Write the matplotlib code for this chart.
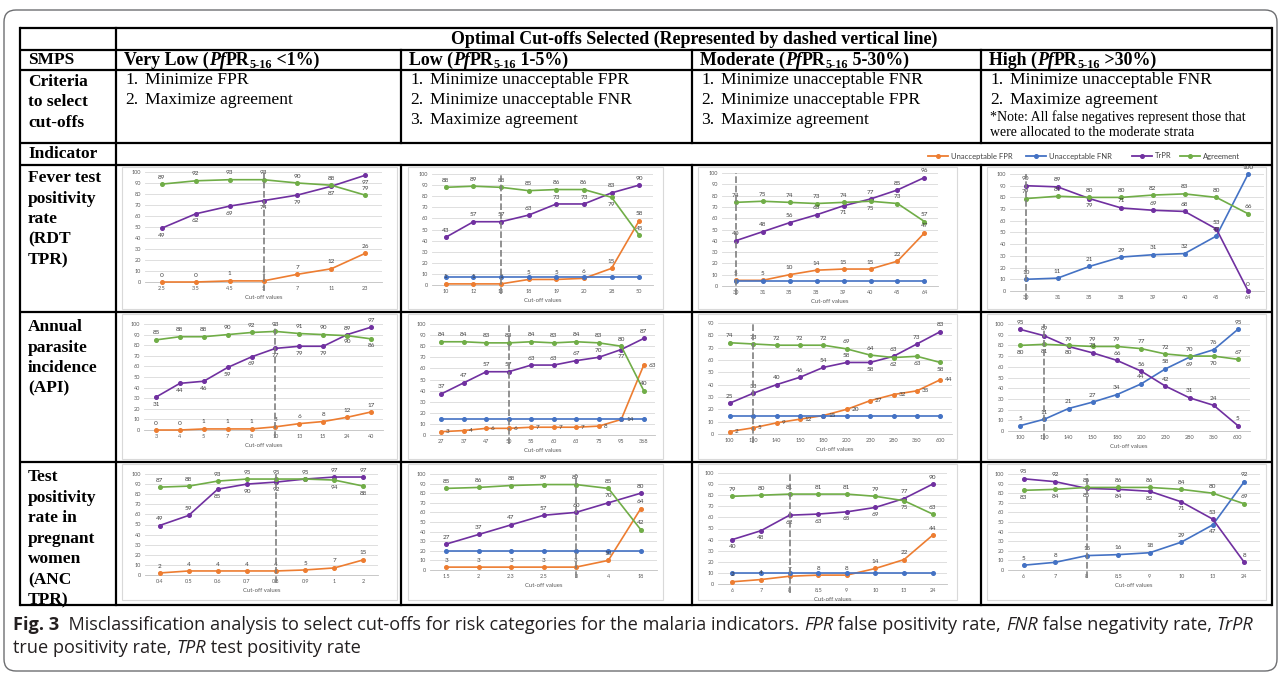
import matplotlib
matplotlib.use('Agg')
import matplotlib.pyplot as plt
from matplotlib.patches import FancyBboxPatch, Rectangle

W, H = 1281, 674
SERIF = 'Liberation Serif'
SANS = 'Lato'
CAPF = 'Open Sans'

C_FPR = '#ED7D31'
C_FNR = '#4472C4'
C_TRPR = '#7030A0'
C_AGR = '#70AD47'

# ---------------- data ----------------
# Fever test positivity rate
fever_vl_cut = ['2.5', '3.5', '4.5', '5', '7', '11', '23']
fever_vl_fpr = [0, 0, 1, 1, 7, 12, 26]
fever_vl_trpr = [49, 62, 69, 74, 79, 87, 97]
fever_vl_agr = [89, 92, 93, 93, 90, 88, 79]
fever_vl_sel = '5'

fever_lo_cut = ['10', '12', '15', '18', '19', '20', '28', '50']
fever_lo_fpr = [1, 1, 1, 5, 5, 6, 15, 58]
fever_lo_fnr = [7, 7, 7, 7, 7, 7, 7, 7]
fever_lo_trpr = [43, 57, 57, 63, 73, 73, 83, 90]
fever_lo_agr = [88, 89, 88, 85, 86, 86, 79, 45]
fever_lo_sel = '15'

fever_mod_cut = ['30', '31', '35', '38', '39', '40', '45', '64']
fever_mod_fpr = [5, 5, 10, 14, 15, 15, 22, 47]
fever_mod_fnr = [4, 4, 4, 4, 4, 4, 4, 4]
fever_mod_trpr = [40, 48, 56, 63, 71, 77, 85, 96]
fever_mod_agr = [74, 75, 74, 73, 74, 75, 73, 57]
fever_mod_sel = '30'

fever_hi_cut = ['30', '31', '35', '38', '39', '40', '45', '64']
fever_hi_fnr = [10, 11, 21, 29, 31, 32, 47, 100]
fever_hi_trpr = [90, 89, 79, 71, 69, 68, 53, 0]
fever_hi_agr = [79, 81, 80, 80, 82, 83, 80, 66]
fever_hi_sel = '30'

# Annual parasite incidence
api_vl_cut = ['3', '4', '5', '7', '8', '10', '13', '15', '24', '40']
api_vl_fpr = [0, 0, 1, 1, 1, 3, 6, 8, 12, 17]
api_vl_trpr = [31, 44, 46, 59, 69, 77, 79, 79, 90, 97]
api_vl_agr = [85, 88, 88, 90, 92, 93, 91, 90, 89, 86]
api_vl_sel = '10'

api_lo_cut = ['27', '37', '47', '50', '55', '60', '63', '75', '95', '368']
api_lo_fpr = [3, 4, 6, 6, 7, 7, 7, 8, 14, 63]
api_lo_fnr = [14, 14, 14, 14, 14, 14, 14, 14, 14, 14]
api_lo_trpr = [37, 47, 57, 57, 63, 63, 67, 70, 77, 87]
api_lo_agr = [84, 84, 83, 83, 84, 83, 84, 83, 80, 40]
api_lo_sel = '50'

api_mod_cut = ['100', '120', '140', '150', '180', '200', '230', '280', '360', '600']
api_mod_fpr = [2, 5, 9, 12, 15, 20, 27, 32, 35, 44]
api_mod_fnr = [15, 15, 15, 15, 15, 15, 15, 15, 15, 15]
api_mod_trpr = [25, 33, 40, 46, 54, 58, 58, 63, 73, 83]
api_mod_agr = [74, 73, 72, 72, 72, 69, 64, 62, 63, 58]
api_mod_sel = '120'

api_hi_cut = ['100', '120', '140', '150', '180', '200', '230', '280', '360', '600']
api_hi_fnr = [5, 11, 21, 27, 34, 44, 58, 69, 76, 95]
api_hi_trpr = [95, 89, 79, 73, 66, 56, 42, 31, 24, 5]
api_hi_agr = [80, 81, 80, 79, 79, 77, 72, 70, 70, 67]
api_hi_sel = '120'

# Test positivity rate in pregnant women
anc_vl_cut = ['0.4', '0.5', '0.6', '0.7', '0.8', '0.9', '1', '2']
anc_vl_fpr = [2, 4, 4, 4, 4, 5, 7, 15]
anc_vl_trpr = [49, 59, 85, 90, 92, 95, 97, 97]
anc_vl_agr = [87, 88, 93, 95, 95, 95, 94, 88]
anc_vl_sel = '0.8'

anc_lo_cut = ['1.5', '2', '2.3', '2.5', '3', '4', '18']
anc_lo_fpr = [3, 3, 3, 3, 3, 10, 64]
anc_lo_fnr = [20, 20, 20, 20, 20, 20, 20]
anc_lo_trpr = [27, 37, 47, 57, 60, 70, 80]
anc_lo_agr = [85, 86, 88, 89, 89, 85, 42]
anc_lo_sel = '3'

anc_mod_cut = ['6', '7', '8', '8.5', '9', '10', '13', '24']
anc_mod_fpr = [2, 4, 7, 8, 8, 14, 22, 44]
anc_mod_fnr = [10, 10, 10, 10, 10, 10, 10, 10]
anc_mod_trpr = [40, 48, 62, 63, 65, 69, 77, 90]
anc_mod_agr = [79, 80, 81, 81, 81, 79, 75, 63]
anc_mod_sel = '8'

anc_hi_cut = ['6', '7', '8', '8.5', '9', '10', '13', '24']
anc_hi_fnr = [5, 8, 15, 16, 18, 29, 47, 92]
anc_hi_trpr = [95, 92, 85, 84, 82, 71, 53, 8]
anc_hi_agr = [83, 84, 86, 86, 86, 84, 80, 69]
anc_hi_sel = '8'

# ---------------- table texts ----------------
strata = ['Very Low', 'Low', 'Moderate', 'High']
strata_range = ['<1%)', '1-5%)', '5-30%)', '>30%)']
criteria = [
    ['Minimize FPR', 'Maximize agreement'],
    ['Minimize unacceptable FPR', 'Minimize unacceptable FNR', 'Maximize agreement'],
    ['Minimize unacceptable FNR', 'Minimize unacceptable FPR', 'Maximize agreement'],
    ['Minimize unacceptable FNR', 'Maximize agreement'],
]
note_lines = ['*Note: All false negatives represent those that',
              'were allocated to the moderate strata']
row_labels = [
    ['Fever test', 'positivity', 'rate', '(RDT', 'TPR)'],
    ['Annual', 'parasite', 'incidence', '(API)'],
    ['Test', 'positivity', 'rate in', 'pregnant', 'women', '(ANC', 'TPR)'],
]
legend_names = ['Unacceptable FPR', 'Unacceptable FNR', 'TrPR', 'Agreement']
legend_colors = [C_FPR, C_FNR, C_TRPR, C_AGR]

# ---------------- figure ----------------
fig = plt.figure(figsize=(W / 100, H / 100), dpi=100)
bg = fig.add_axes([0, 0, 1, 1])
bg.set_xlim(0, W)
bg.set_ylim(H, 0)
bg.axis('off')
renderer = fig.canvas.get_renderer()


def text_width(s, **kw):
    t1 = bg.text(0, 0, 'x' + s + 'x', **kw)
    t2 = bg.text(0, 0, 'xx', **kw)
    w = t1.get_window_extent(renderer).width - t2.get_window_extent(renderer).width
    t1.remove()
    t2.remove()
    return w


def rich(x, y, parts, **base):
    # parts: (text, extra kwargs, baseline shift in px)
    for s, kw, dy in parts:
        props = dict(base)
        props.update(kw)
        bg.text(x, y + dy, s, va='baseline', ha='left', **props)
        x += text_width(s, **props)


# outer rounded frame
bg.add_patch(FancyBboxPatch((4, 10), W - 8, H - 13, boxstyle='round,pad=0,rounding_size=12',
                            fc='none', ec='#6d6e71', lw=1.0))

# table grid
col_x = [20, 116, 401, 692, 981, 1272]
row_y = [28, 50, 70, 143, 165, 312, 462, 605]
lw_t = 1.6
for y in row_y:
    bg.plot([col_x[0], col_x[-1]], [y, y], color='black', lw=lw_t, solid_capstyle='butt')
for x in [col_x[0], col_x[1], col_x[-1]]:
    bg.plot([x, x], [row_y[0], row_y[-1]], color='black', lw=lw_t)
for x in col_x[2:-1]:
    bg.plot([x, x], [row_y[1], row_y[3]], color='black', lw=lw_t)
    bg.plot([x, x], [row_y[4], row_y[-1]], color='black', lw=lw_t)

hdr = dict(family=SERIF, fontsize=12.5, fontweight='bold', color='black')
bg.text((col_x[1] + col_x[-1]) / 2, 39, 'Optimal Cut-offs Selected (Represented by dashed vertical line)',
        ha='center', va='center', family=SERIF, fontsize=12.9, fontweight='bold', color='black')
bg.text(28, 60, 'SMPS', ha='left', va='center', **hdr)

for i, (name, rng) in enumerate(zip(strata, strata_range)):
    rich(col_x[i + 1] + 8, 65, [
        (name + ' (', {}, 0),
        ('Pf', {'fontstyle': 'italic'}, 0),
        ('PR', {}, 0),
        ('5-16', {'fontsize': 8.8}, 3),
        (' ' + rng, {}, 0),
    ], family=SERIF, fontsize=12.9, fontweight='bold', color='black')

for j, s in enumerate(['Criteria', 'to select', 'cut-offs']):
    bg.text(28, 82 + 20.5 * j, s, ha='left', va='center', **hdr)

body = dict(family=SERIF, fontsize=12.6, color='black')
for i, crit in enumerate(criteria):
    for j, s in enumerate(crit):
        bg.text(col_x[i + 1] + 9, 80 + 20 * j, f'{j + 1}.', ha='left', va='center', **body)
        bg.text(col_x[i + 1] + 29, 80 + 20 * j, s, ha='left', va='center', **body)
for j, s in enumerate(note_lines):
    bg.text(col_x[4] + 9, 117 + 15 * j, s, ha='left', va='center', family=SERIF, fontsize=10)

bg.text(28, 154, 'Indicator', ha='left', va='center', **hdr)

# legend in the indicator row
leg_x = [928, 1026, 1132, 1180]
for lx, name, c in zip(leg_x, legend_names, legend_colors):
    bg.plot([lx, lx + 20], [156, 156], color=c, lw=1.3)
    bg.plot([lx + 10], [156], 'o', color=c, ms=2.6)
    bg.text(lx + 23, 156, name, ha='left', va='center', family=SANS, fontsize=5.5, color='#404040')

row_label_y0 = [178, 327, 477]
for y0, labs in zip(row_label_y0, row_labels):
    for j, s in enumerate(labs):
        bg.text(28, y0 + 20.6 * j, s, ha='left', va='center', **hdr)

# light chart frames inside cells
box_x = [(122, 397), (408, 663), (698, 957), (987, 1266)]
box_y = [(167, 309), (314, 459), (464, 600)]
for (by0, by1) in box_y:
    for (bx0, bx1) in box_x:
        bg.add_patch(Rectangle((bx0, by0), bx1 - bx0, by1 - by0, fc='none', ec='#D9D9D9', lw=0.8))

# ---------------- mini charts ----------------
OFF = {'a': ((0, 3.2), 'center', 'bottom'),
       'b': ((0, -3.2), 'center', 'top'),
       'r': ((3.5, 0), 'left', 'center')}


def panel(rect, cuts, sel, series, ymax=100, xlabel=True):
    x0, y0, x1, y1 = rect
    ax = fig.add_axes([x0 / W, 1 - y1 / H, (x1 - x0) / W, (y1 - y0) / H])
    ax.set_facecolor('none')
    n = len(cuts)
    xs = list(range(n))
    ax.set_xlim(-0.5, n - 0.5)
    ax.set_ylim(0, ymax)
    ax.set_yticks(range(0, ymax + 1, 10))
    ax.set_xticks(xs)
    ax.set_xticklabels(cuts)
    ax.grid(axis='y', color='#D9D9D9', lw=0.6)
    ax.set_axisbelow(True)
    for sp in ['top', 'right', 'left']:
        ax.spines[sp].set_visible(False)
    ax.spines['bottom'].set_color('#BFBFBF')
    ax.spines['bottom'].set_linewidth(0.6)
    ax.tick_params(length=0, labelsize=4, labelcolor='#595959', pad=3)
    for lab in ax.get_xticklabels() + ax.get_yticklabels():
        lab.set_family(SANS)
    if xlabel:
        ax.set_xlabel('Cut-off values', fontsize=4.3, family=SANS, color='#595959', labelpad=3)
    for vals, color, place in series:
        ax.plot(xs, vals, color=color, lw=1.2, marker='o', ms=2.6, zorder=3, clip_on=False)
        for i, (v, p) in enumerate(zip(vals, place)):
            if p == 'n':
                continue
            off, ha, va = OFF[p]
            ax.annotate(str(v), (i, v), xytext=off, textcoords='offset points', ha=ha, va=va,
                        fontsize=4.6, family=SANS, color='#404040', zorder=4, annotation_clip=False)
    k = cuts.index(sel)
    ax.axvline(k, ymin=-0.08, ymax=1.0, color='#7F7F7F', lw=1.2, ls=(0, (4, 1.6)),
               clip_on=False, zorder=5)
    return ax


panel((145, 172, 382, 282), fever_vl_cut, fever_vl_sel, [
    (fever_vl_fpr, C_FPR, 'aaaaaaa'),
    (fever_vl_trpr, C_TRPR, 'bbbbbbb'),
    (fever_vl_agr, C_AGR, 'aaaaaaa')])
panel((432, 174, 653, 285), fever_lo_cut, fever_lo_sel, [
    (fever_lo_fpr, C_FPR, 'aaaaaaaa'),
    (fever_lo_fnr, C_FNR, 'nnnnnnnn'),
    (fever_lo_trpr, C_TRPR, 'aaaaaaaa'),
    (fever_lo_agr, C_AGR, 'aaaaaaba')])
panel((722, 173, 938, 286), fever_mod_cut, fever_mod_sel, [
    (fever_mod_fpr, C_FPR, 'aaaaaaaa'),
    (fever_mod_fnr, C_FNR, 'nnnnnnnn'),
    (fever_mod_trpr, C_TRPR, 'aaaabaaa'),
    (fever_mod_agr, C_AGR, 'aaaaabaa')])
panel((1010, 174, 1264, 291), fever_hi_cut, fever_hi_sel, [
    (fever_hi_fnr, C_FNR, 'aaaaaaaa'),
    (fever_hi_trpr, C_TRPR, 'aabaaaaa'),
    (fever_hi_agr, C_AGR, 'aaaaaaaa')], xlabel=False)

panel((144, 324, 383, 430), api_vl_cut, api_vl_sel, [
    (api_vl_fpr, C_FPR, 'aaaaaaaaaa'),
    (api_vl_trpr, C_TRPR, 'bbbbbbbbba'),
    (api_vl_agr, C_AGR, 'aaaaaaaaab')])
panel((430, 324, 655, 435), api_lo_cut, api_lo_sel, [
    (api_lo_fpr, C_FPR, 'rrrrrrrrrr'),
    (api_lo_fnr, C_FNR, 'nnnnnnnnnn'),
    (api_lo_trpr, C_TRPR, 'aaaaaaaaba'),
    (api_lo_agr, C_AGR, 'aaaaaaaaaa')])
panel((718, 323, 952, 434), api_mod_cut, api_mod_sel, [
    (api_mod_fpr, C_FPR, 'rrrrrrrrrr'),
    (api_mod_fnr, C_FNR, 'nnnnnnnnnn'),
    (api_mod_trpr, C_TRPR, 'aaaaaabaaa'),
    (api_mod_agr, C_AGR, 'aaaaaaabbb')], ymax=90)
panel((1008, 324, 1250, 431), api_hi_cut, api_hi_sel, [
    (api_hi_fnr, C_FNR, 'aaaaaaabaa'),
    (api_hi_trpr, C_TRPR, 'aaaaaaaaaa'),
    (api_hi_agr, C_AGR, 'bbbaaaaaba')])

panel((145, 474, 378, 575), anc_vl_cut, anc_vl_sel, [
    (anc_vl_fpr, C_FPR, 'aaaaaaaa'),
    (anc_vl_trpr, C_TRPR, 'aabbbnaa'),
    (anc_vl_agr, C_AGR, 'aaaaaabb')])
panel((430, 474, 657, 570), anc_lo_cut, anc_lo_sel, [
    (anc_lo_fpr, C_FPR, 'aaaaaaa'),
    (anc_lo_fnr, C_FNR, 'nnnnnnn'),
    (anc_lo_trpr, C_TRPR, 'aaaaaaa'),
    (anc_lo_agr, C_AGR, 'aaaaaaa')])
panel((718, 473, 947, 584), anc_mod_cut, anc_mod_sel, [
    (anc_mod_fpr, C_FPR, 'aaaaaaaa'),
    (anc_mod_fnr, C_FNR, 'nnnnnnnn'),
    (anc_mod_trpr, C_TRPR, 'bbbbbbaa'),
    (anc_mod_agr, C_AGR, 'aaaaaaba')])
panel((1008, 474, 1260, 570), anc_hi_cut, anc_hi_sel, [
    (anc_hi_fnr, C_FNR, 'aaaaaaba'),
    (anc_hi_trpr, C_TRPR, 'aabbbbaa'),
    (anc_hi_agr, C_AGR, 'bbaaaaaa')])

# ---------------- caption ----------------
cap = dict(family=CAPF, fontsize=13.1, color='#231F20')
rich(13, 630, [
    ('Fig. 3', {'fontweight': 'bold'}, 0),
    ('  Misclassification analysis to select cut-offs for risk categories for the malaria indicators. ', {}, 0),
    ('FPR', {'fontstyle': 'italic'}, 0),
    (' false positivity rate, ', {}, 0),
    ('FNR', {'fontstyle': 'italic'}, 0),
    (' false negativity rate, ', {}, 0),
    ('TrPR', {'fontstyle': 'italic'}, 0),
], **cap)
rich(13, 653, [
    ('true positivity rate, ', {}, 0),
    ('TPR', {'fontstyle': 'italic'}, 0),
    (' test positivity rate', {}, 0),
], **cap)

fig.savefig('out.png', dpi=100, facecolor='white')
